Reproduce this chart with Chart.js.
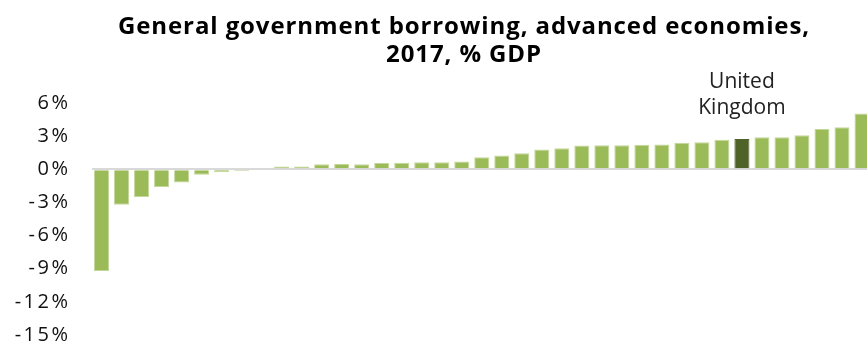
<!DOCTYPE html>
<html>
<head>
<meta charset="utf-8">
<script src="https://cdn.jsdelivr.net/npm/chart.js@4"></script>
<style>
  body { margin: 0; overflow: hidden; background: #fff; }
  #wrap { width: 872px; height: 345px; position: relative; }
</style>
</head>
<body>
<div id="wrap"><canvas id="myChart"></canvas></div>
<script>
// only the UK is named in the picture, the other countries are unlabelled
const countries = [
  '', '', '', '', '', '', '', '', '', '',
  '', '', '', '', '', '', '', '', '', '',
  '', '', '', '', '', '', '', '', '', '',
  '', '', 'United Kingdom', '', '', '', '', '', ''
];
const values = [
  -9.2, -3.2, -2.5, -1.6, -1.2, -0.5, -0.25, -0.15, 0, 0.25,
  0.25, 0.45, 0.48, 0.45, 0.57, 0.6, 0.63, 0.63, 0.7, 1.1,
  1.25, 1.45, 1.8, 1.9, 2.15, 2.17, 2.17, 2.22, 2.25, 2.4,
  2.45, 2.68, 2.75, 2.9, 2.9, 3.07, 3.65, 3.8, 5.05
];
const yTicks = [-15, -12, -9, -6, -3, 0, 3, 6];
const titleLines = ['General government borrowing, advanced economies,', '2017, % GDP'];
const highlight = 'United Kingdom';

const overlay = {
  id: 'overlay',
  beforeDraw(chart) {
    chart.ctx.letterSpacing = '2.5px';
  },
  afterDraw(chart) {
    const ctx = chart.ctx;
    ctx.save();
    ctx.textAlign = 'center';
    ctx.textBaseline = 'alphabetic';
    ctx.fillStyle = '#000';
    ctx.letterSpacing = '0.9px';
    ctx.font = 'bold 24px "Open Sans"';
    ctx.fillText(titleLines[0], 464, 34);
    ctx.fillText(titleLines[1], 464, 62);

    ctx.letterSpacing = '0px';
    const i = countries.indexOf(highlight);
    const x = chart.scales.x.getPixelForValue(i);
    const y = chart.scales.y.getPixelForValue(values[i]);
    ctx.fillStyle = '#222';
    ctx.font = '21px "Open Sans"';
    ctx.fillText('United', x, y - 51);
    ctx.fillText('Kingdom', x, y - 24.5);
    ctx.restore();
  }
};

const ctx = document.getElementById('myChart');
new Chart(ctx, {
  type: 'bar',
  data: {
    labels: countries,
    datasets: [{
      data: values,
      backgroundColor: countries.map(c => c === highlight ? '#4f6228' : '#9bbb59'),
      borderColor: countries.map(c => c === highlight ? '#4f6228' : '#c4d79b'),
      borderWidth: 1,
      categoryPercentage: 1,
      barPercentage: 0.75
    }]
  },
  options: {
    responsive: true,
    maintainAspectRatio: false,
    animation: false,
    layout: { padding: { top: 103, bottom: 10, left: 0, right: 0 } },
    plugins: {
      legend: { display: false },
      tooltip: { enabled: false }
    },
    scales: {
      x: { display: false },
      y: {
        min: -15,
        max: 6,
        afterBuildTicks: s => { s.ticks = yTicks.map(v => ({ value: v })); },
        afterFit: s => {
          s.width = 91.5;
          s.paddingTop = 0;
          s.paddingBottom = 0;
        },
        border: { display: false },
        grid: {
          drawTicks: false,
          color: c => c.tick.value === 0 ? '#d9d9d9' : 'rgba(0,0,0,0)',
          lineWidth: 2
        },
        ticks: {
          padding: 21,
          color: '#111',
          font: { family: 'Open Sans', size: 20 },
          callback: v => v + '%'
        }
      }
    }
  },
  plugins: [overlay]
});
</script>
</body>
</html>
